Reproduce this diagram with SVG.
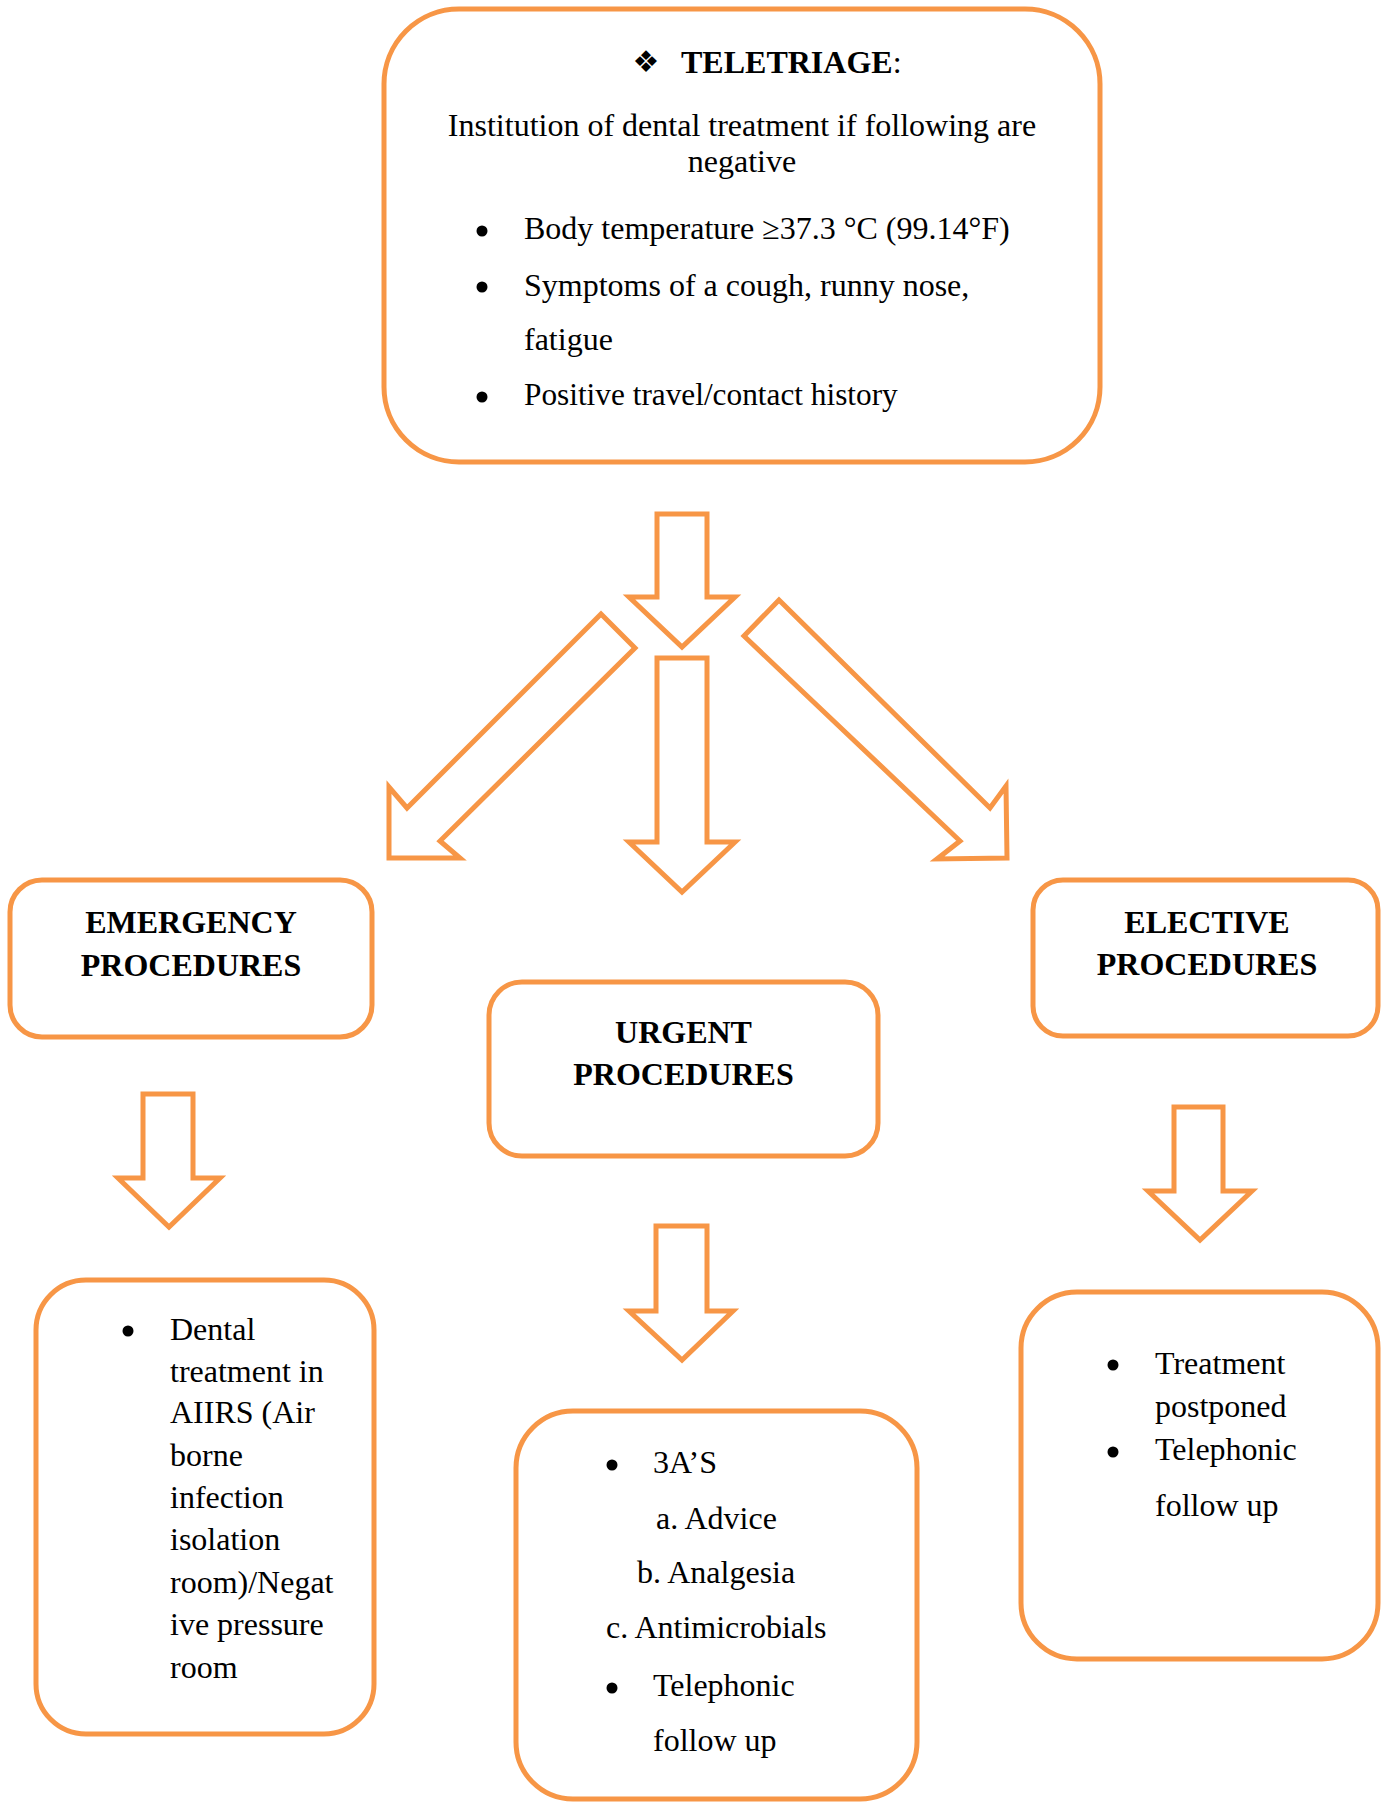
<svg xmlns="http://www.w3.org/2000/svg" width="1385" height="1802" viewBox="0 0 1385 1802">
<style>
.box{fill:#fff;stroke:#F79646;stroke-width:5}
.arr{fill:#fff;stroke:#F79646;stroke-width:5;stroke-linejoin:miter}
text{font-family:"Liberation Serif","Times New Roman",serif;font-size:32px;fill:#000}
.b{font-weight:bold}
.c{text-anchor:middle}
.dot{fill:#000}
</style>
<rect width="1385" height="1802" fill="#fff"/>
<g id="connectors">
<polygon class="arr" points="657,514 707,514 707,597 735,597 682,647 629,597 657,597"/>
<polygon class="arr" points="657,658 707,658 707,842 735,842 682,892 629,842 657,842"/>
<polygon class="arr" points="601,614 635,648 440,841 460,858 389,858 389,787 407,808"/>
<polygon class="arr" points="779,600 744,636 960,841 937,859 1007,858 1006,786 990,808"/>
<polygon class="arr" points="143,1094 193,1094 193,1178 220,1178 169,1227 118,1178 143,1178"/>
<polygon class="arr" points="656,1226 707,1226 707,1311 733,1311 682,1360 629,1311 656,1311"/>
<polygon class="arr" points="1174,1107 1223,1107 1223,1191 1252,1191 1200,1240 1148,1191 1174,1191"/>
</g>
<g id="teletriage">
<rect class="box" x="384" y="9" width="716" height="453" rx="75"/>
<text x="646" y="72" style="font-family:'DejaVu Sans',sans-serif;font-size:30px" text-anchor="middle">❖</text>
<text x="681" y="73"><tspan class="b">TELETRIAGE</tspan>:</text>
<text class="c" x="742" y="136">Institution of dental treatment if following are</text>
<text class="c" x="742" y="172">negative</text>
<circle class="dot" cx="482" cy="231" r="5.5"/>
<text x="524" y="239">Body temperature ≥37.3 °C (99.14°F)</text>
<circle class="dot" cx="482" cy="287" r="5.5"/>
<text x="524" y="296">Symptoms of a cough, runny nose,</text>
<text x="524" y="350">fatigue</text>
<circle class="dot" cx="482" cy="397" r="5.5"/>
<text x="524" y="405" style="font-size:31.3px">Positive travel/contact history</text>
</g>
<g id="emergency">
<rect class="box" x="10" y="880" width="362" height="157" rx="32"/>
<text class="b c" x="191" y="933">EMERGENCY</text>
<text class="b c" x="191" y="976">PROCEDURES</text>
</g>
<g id="urgent">
<rect class="box" x="489" y="982" width="389" height="174" rx="33"/>
<text class="b c" x="683.5" y="1043">URGENT</text>
<text class="b c" x="683.5" y="1085">PROCEDURES</text>
</g>
<g id="elective">
<rect class="box" x="1033" y="880" width="345" height="156" rx="30"/>
<text class="b c" x="1207" y="933">ELECTIVE</text>
<text class="b c" x="1207" y="975">PROCEDURES</text>
</g>
<g id="emergency-detail">
<rect class="box" x="36" y="1280" width="338" height="454" rx="50"/>
<circle class="dot" cx="128" cy="1331" r="5.5"/>
<text x="170" y="1340">Dental</text>
<text x="170" y="1382">treatment in</text>
<text x="170" y="1423">AIIRS (Air</text>
<text x="170" y="1466">borne</text>
<text x="170" y="1508">infection</text>
<text x="170" y="1550">isolation</text>
<text x="170" y="1593">room)/Negat</text>
<text x="170" y="1635">ive pressure</text>
<text x="170" y="1678">room</text>
</g>
<g id="urgent-detail">
<rect class="box" x="516" y="1411" width="401" height="388" rx="57"/>
<circle class="dot" cx="612" cy="1465" r="5.5"/>
<text x="653" y="1473">3A’S</text>
<text x="656" y="1529">a. Advice</text>
<text x="637" y="1583">b. Analgesia</text>
<text x="606" y="1638">c. Antimicrobials</text>
<circle class="dot" cx="612" cy="1688" r="5.5"/>
<text x="653" y="1696">Telephonic</text>
<text x="653" y="1751">follow up</text>
</g>
<g id="elective-detail">
<rect class="box" x="1021" y="1292" width="357" height="367" rx="56"/>
<circle class="dot" cx="1113" cy="1365" r="5.5"/>
<text x="1155" y="1374">Treatment</text>
<text x="1155" y="1417">postponed</text>
<circle class="dot" cx="1113" cy="1452" r="5.5"/>
<text x="1155" y="1460">Telephonic</text>
<text x="1155" y="1516">follow up</text>
</g>
</svg>
